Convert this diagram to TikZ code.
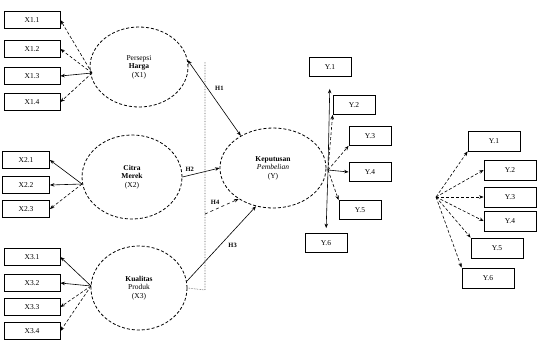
\documentclass[tikz,border=0pt]{standalone}
\usepackage{fontspec}
\setmainfont{Liberation Serif}
\usetikzlibrary{positioning,calc,arrows.meta,shapes.geometric}

\begin{document}
\begin{tikzpicture}[x=1pt,y=-1pt,>={Stealth[black,length=4.5pt,width=3.5pt]},
                          semithick,
                          every node/.style={font=\fontsize{7.5}{8.5}\selectfont},
                          ind/.style={draw,thick,minimum width=56pt,minimum height=17pt,inner sep=1pt},
                          indb/.style={ind,minimum width=47pt},
                          indy/.style={draw,thick,minimum width=42pt,minimum height=19pt,inner sep=1pt},
                          indz/.style={draw,thick,minimum width=52pt,minimum height=20pt,inner sep=1pt},
                          lat/.style={ellipse,draw,densely dashed,thick,align=center,inner sep=0pt},
                          hyp/.style={font=\fontsize{6.5}{7}\selectfont\bfseries}]
            \useasboundingbox (0,0) rectangle (537,341);
            %Latent
                \node[lat,minimum width=98pt,minimum height=80pt] (x1) at (139,67) {Persepsi\\\textbf{Harga}\\(X1)};
                \node[lat,minimum width=100pt,minimum height=84pt] (x2) at (132,177) {\textbf{Citra}\\\textbf{Merek}\\(X2)};
                \node[lat,minimum width=96pt,minimum height=84pt] (x3) at (139,288) {\textbf{Kualitas}\\Produk\\(X3)};
                \node[lat,minimum width=106pt,minimum height=80pt] (y) at (273,168) {\textbf{Keputusan}\\\textit{Pembelian}\\(Y)};

            %Indicators
                \node[ind] (x11) at (32,20) {X1.1};
                \node[ind] (x12) at (32,49) {X1.2};
                \node[ind] (x13) at (32,76) {X1.3};
                \node[ind] (x14) at (32,102) {X1.4};
                \node[indb] (x21) at (26,160) {X2.1};
                \node[indb] (x22) at (26,185) {X2.2};
                \node[indb] (x23) at (26,209) {X2.3};
                \node[ind] (x31) at (32,257) {X3.1};
                \node[ind] (x32) at (32,283) {X3.2};
                \node[ind] (x33) at (32,307) {X3.3};
                \node[ind] (x34) at (32,331) {X3.4};

                \node[indy] (y1) at (330,67) {Y.1};
                \node[indy] (y2) at (354,105) {Y.2};
                \node[indy] (y3) at (370,136) {Y.3};
                \node[indy] (y4) at (370,172) {Y.4};
                \node[indy] (y5) at (360,210) {Y.5};
                \node[indy] (y6) at (326,243) {Y.6};

                \node[indz] (z1) at (494,141) {Y.1};
                \node[indz] (z2) at (510,170) {Y.2};
                \node[indz] (z3) at (510,197) {Y.3};
                \node[indz] (z4) at (510,221) {Y.4};
                \node[indz] (z5) at (497,248) {Y.5};
                \node[indz] (z6) at (488,278) {Y.6};

            %Points
                \coordinate (s1) at (92,73);
                \coordinate (s2) at (82,184);
                \coordinate (s3) at (91,286);
                \coordinate (jy) at (328,170);
                \coordinate (jz) at (436,197);
                \coordinate (d1) at (205,62);
                \coordinate (d2) at (205,290);
                \coordinate (d3) at (205,214);

            %Lines
                \draw[->,densely dashed] (s1) -- (x11.east);
                \draw[->,densely dashed] (s1) -- (x12.east);
                \draw[->] (s1) -- (x13.east);
                \draw[->,densely dashed] (s1) -- (x14.east);
                \draw[->] (s2) -- (x21.east);
                \draw[->] (s2) -- (x22.east);
                \draw[->,densely dashed] (s2) -- (x23.east);
                \draw[->] (s3) -- (x31.east);
                \draw[->] (s3) -- (x32.east);
                \draw[->,densely dashed] (s3) -- (x33.east);
                \draw[->,densely dashed] (s3) -- (x34.east);

                \draw[->,shorten >=12pt] (jy) -- (y1.south);
                \draw[->,densely dashed] (jy) -- (y2.south west);
                \draw[->,densely dashed] (jy) -- (y3.south west);
                \draw[->] (jy) -- (y4.west);
                \draw[->,densely dashed] (jy) -- (y5.north west);
                \draw[->,shorten >=5pt] (jy) -- (y6.north);

                \draw[->,densely dashed] (jz) -- (z1.south west);
                \draw[->,densely dashed] (jz) -- (z2.west);
                \draw[->,densely dashed] (jz) -- (z3.west);
                \draw[->,densely dashed] (jz) -- (z4.west);
                \draw[->,densely dashed] (jz) -- (z5.north west);
                \draw[->,densely dashed] (jz) -- (z6.north west);

            %Paths
                \draw[<->] (x1.8) -- (y.135) node[hyp,pos=0.45,above right] {H1};
                \draw[->] (x2.east) -- (y.west) node[hyp,pos=0.2,above] {H2};
                \draw[->] (x3.8) -- (y.246) node[hyp,pos=0.55,below right] {H3};
                \draw[densely dotted,gray!70!black] (d1) -- (d2) -- (x3.east);
                \draw[->,dashed] (d3) -- (y.222) node[hyp,pos=0.3,above,yshift=1pt] {H4};
            \end{tikzpicture}
\end{document}
